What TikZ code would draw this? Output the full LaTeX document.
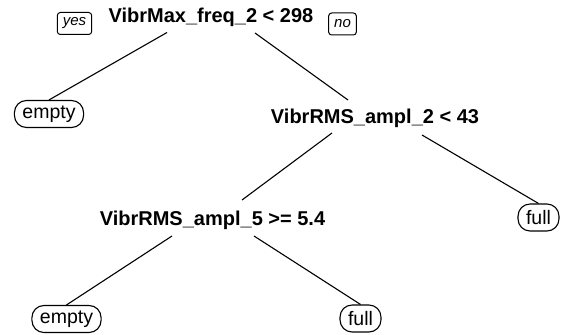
\documentclass[tikz,border=0pt]{standalone}
\usepackage{fontspec}
\setmainfont{Liberation Sans}
\usetikzlibrary{calc}
\tikzset{
  splitlabel/.style={anchor=base, inner sep=0pt, font=\fontsize{20}{22}\selectfont\bfseries},
  leafbox/.style={draw, line width=1.1pt, rounded corners=12pt, inner xsep=8pt, inner ysep=0pt,
    minimum height=27pt, font=\fontsize{19.5}{21}\selectfont},
  tagbox/.style={draw, line width=1pt, rounded corners=3pt, inner xsep=5.5pt, inner ysep=0pt,
    minimum height=22pt, font=\fontsize{15}{17}\selectfont\itshape},
  branch/.style={line width=1.1pt}
}
\begin{document}
\begin{tikzpicture}[x=1pt,y=-1pt]
\path[use as bounding box, fill=white] (0,0) rectangle (561,334);
% split labels
\node[splitlabel] (root) at (211,23) {VibrMax\_freq\_2 < 298};
\node[splitlabel] (n2) at (375,123) {VibrRMS\_ampl\_2 < 43};
\node[splitlabel] (n3) at (212.5,225) {VibrRMS\_ampl\_5 >= 5.4};
% yes / no tags
\node[tagbox] (yes) at (74.5,23.5) {yes};
\node[tagbox] (no) at (342.5,24) {no};
% leaves
\node[leafbox] (e1) at (49,114) {empty};
\node[leafbox] (f1) at (538.5,217.5) {full};
\node[leafbox] (e2) at (66.5,319) {empty};
\node[leafbox] (f2) at (360.5,318.5) {full};
% branches
\draw[branch] ($(root.base)+(-44,9.5)$) -- (e1.north);
\draw[branch] ($(root.base)+(44,10)$) -- ($(n2.base)+(-27,-23)$);
\draw[branch] ($(n2.base)+(-43,10)$) -- ($(n3.base)+(29.5,-25)$);
\draw[branch] ($(n2.base)+(47,12)$) -- (f1.north);
\draw[branch] ($(n3.base)+(-40.5,11)$) -- (e2.north);
\draw[branch] ($(n3.base)+(41.5,11)$) -- (f2.north);
\end{tikzpicture}
\end{document}
